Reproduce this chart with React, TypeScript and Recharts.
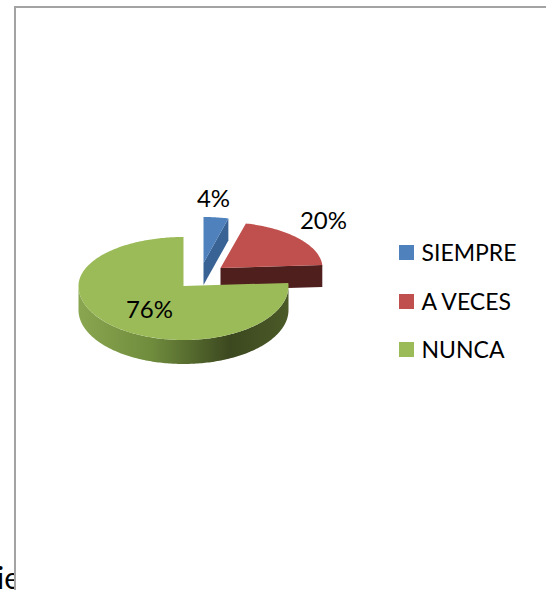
import { PieChart, Pie, Cell, Legend } from "recharts";

const names = ["SIEMPRE", "A VECES", "NUNCA"];
const values = [4, 20, 76];
const topColors = ["#4f81bd", "#c0504d", "#9bbb59"];
const wallColors = ["#386394", "#4f1f1e", "#3f4a20"];

// how far each slice is pulled away from the pie centre, and its squash
const sliceStyles = [
  { dx: 20, dy: -23, rx: 100, backRy: 46, frontRy: 46, depth: 22 },
  { dx: 37, dy: -18, rx: 102, backRy: 46, frontRy: 46, depth: 22 },
  { dx: 0, dy: 0, rx: 105, backRy: 49, frontRy: 54, depth: 24 },
];
const labelSpots = [
  { dx: 30, dy: -89 },
  { dx: 140, dy: -67 },
  { dx: -34, dy: 22 },
];

const data = names.map((name, i) => ({ name, value: values[i] }));

const CX = 183.5;
const CY = 286;
const RAD = Math.PI / 180;

function pt(x: number, y: number, s: (typeof sliceStyles)[number], a: number) {
  const sin = Math.sin(a * RAD);
  const ry = sin > 0 ? s.backRy : s.frontRy;
  return [x + s.rx * Math.cos(a * RAD), y - ry * sin];
}

function arcPoints(x: number, y: number, s: (typeof sliceStyles)[number], from: number, to: number) {
  const out: number[][] = [];
  const steps = Math.max(2, Math.ceil(Math.abs(from - to)));
  for (let i = 0; i <= steps; i++) out.push(pt(x, y, s, from + ((to - from) * i) / steps));
  return out;
}

const toPath = (pts: number[][]) =>
  "M" + pts.map((p) => `${p[0].toFixed(2)},${p[1].toFixed(2)}`).join("L") + "Z";

function Slice3D(props: any) {
  const { startAngle, endAngle, index } = props;
  const s = sliceStyles[index];
  const x = CX + s.dx;
  const y = CY + s.dy;
  const top = arcPoints(x, y, s, startAngle, endAngle);
  const endPt = pt(x, y, s, endAngle);
  // radial wall on the clockwise edge
  const radial = [
    [x, y],
    endPt,
    [endPt[0], endPt[1] + s.depth],
    [x, y + s.depth],
  ];
  // outer wall, only the front half shows
  const from = Math.min(startAngle, 0);
  const to = Math.max(endAngle, -180);
  const outer = from > to ? arcPoints(x, y, s, from, to) : null;
  const gradId = `wall-${index}`;
  return (
    <g>
      <defs>
        <linearGradient id={gradId} x1="0" y1="0" x2="1" y2="0">
          <stop offset="0%" stopColor="#8aa650" />
          <stop offset="35%" stopColor="#6f8c3d" />
          <stop offset="72%" stopColor="#3c481f" />
          <stop offset="100%" stopColor="#4b5a28" />
        </linearGradient>
      </defs>
      <path d={toPath(radial)} fill={wallColors[index]} />
      {outer && (
        <path
          d={toPath([...outer, ...outer.slice().reverse().map((p) => [p[0], p[1] + s.depth])])}
          fill={`url(#${gradId})`}
        />
      )}
      <path d={toPath([[x, y], ...top])} fill={topColors[index]} />
    </g>
  );
}

function renderLabel(props: any) {
  const spot = labelSpots[props.index];
  return (
    <text
      x={CX + spot.dx}
      y={CY + spot.dy}
      textAnchor="middle"
      dominantBaseline="central"
      fontSize={24}
      fill="#000"
    >
      {`${Math.round(props.percent * 100)}%`}
    </text>
  );
}

function renderLegend() {
  return (
    <div>
      {names.map((n, i) => (
        <div key={n} style={{ position: "absolute", left: 0, top: i * 48.5, height: 15, width: 130 }}>
          <span style={{ position: "absolute", left: 0, top: 0, width: 15, height: 15, background: topColors[i] }} />
          <span style={{ position: "absolute", left: 22.5, top: -7, lineHeight: "29px", fontSize: 23, color: "#000" }}>{n}</span>
        </div>
      ))}
    </div>
  );
}

export default function App() {
  return (
    <div style={{ position: "fixed", left: 0, top: 0, width: 546, height: 590, overflow: "hidden", background: "#fff", fontFamily: "Lato, sans-serif" }}>
      <div style={{ position: "absolute", left: -3, top: 559, width: 17, overflow: "hidden", fontSize: 30, lineHeight: "36px", color: "#000", whiteSpace: "nowrap" }}>ie</div>
      <div style={{ position: "absolute", left: 14, top: 6, width: 532, height: 584, borderLeft: "2px solid #a3a3a3", borderTop: "2px solid #a3a3a3", boxSizing: "border-box" }} />
      <div style={{ position: "absolute", left: 0, top: 0 }}>
        <PieChart width={546} height={590} margin={{ top: 0, right: 0, bottom: 0, left: 0 }}>
          <Pie
            data={data}
            dataKey="value"
            nameKey="name"
            cx={CX}
            cy={CY}
            outerRadius={105}
            startAngle={90}
            endAngle={-270}
            stroke="none"
            paddingAngle={0}
            shape={Slice3D}
            label={renderLabel}
            labelLine={false}
            isAnimationActive={false}
          >
            {data.map((d, i) => (
              <Cell key={d.name} fill={topColors[i]} />
            ))}
          </Pie>
          <Legend content={renderLegend} wrapperStyle={{ position: "absolute", left: 399, top: 245, width: 130, height: 120 }} />
        </PieChart>
      </div>
    </div>
  );
}
